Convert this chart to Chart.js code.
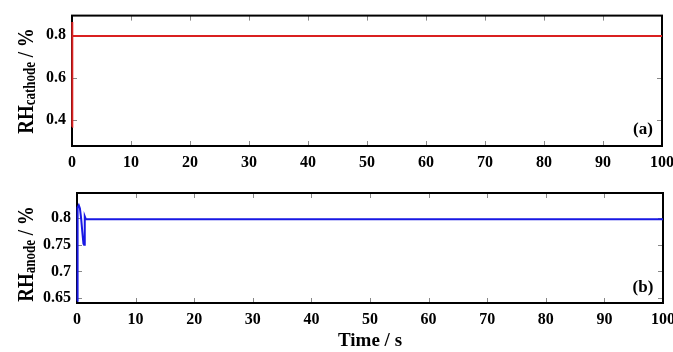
<!DOCTYPE html>
<html>
<head>
<meta charset="utf-8">
<script src="https://cdn.jsdelivr.net/npm/chart.js@4.4.1/dist/chart.umd.min.js"></script>
<style>
  body { margin: 0; background: #fff; }
  #wrap { position: relative; width: 673px; height: 352px; }
  canvas { position: absolute; left: 0; }
</style>
</head>
<body>
<div id="wrap">
  <canvas id="chartA" width="673" height="172" style="top:0"></canvas>
  <canvas id="chartB" width="673" height="177" style="top:175px"></canvas>
</div>
<script>
// data
const timeA = [0, 0, 0.1, 100]
const rhCathode = [0.37, 0.86, 0.795, 0.795]
const timeB = [0, 0.05, 0.15, 0.3, 0.5, 0.7, 0.9, 1.1, 1.2, 1.3, 1.35, 1.5, 100]
const rhAnode = [0.645, 0.8, 0.82, 0.824, 0.818, 0.8, 0.775, 0.752, 0.75, 0.79, 0.803, 0.798, 0.798]
const xTicks = [0, 10, 20, 30, 40, 50, 60, 70, 80, 90, 100]
const yTicksA = [0.4, 0.6, 0.8]
const yTicksB = [0.65, 0.7, 0.75, 0.8]

const serif = '"Liberation Serif", "Times New Roman", serif'
const red = 'rgb(218, 32, 32)'
const blue = 'rgb(24, 24, 228)'

// frame + inward ticks go under the line, labels on top
function framePlugin(cfg) {
  return {
    id: 'frame',
    beforeDatasetsDraw(chart) {
      const ctx = chart.ctx
      const a = chart.chartArea
      const xs = chart.scales.x
      const ys = chart.scales.y
      ctx.save()
      ctx.strokeStyle = '#888'
      ctx.lineWidth = 1
      ctx.beginPath()
      xs.ticks.forEach(t => {
        const px = Math.round(xs.getPixelForValue(t.value)) + 0.5
        ctx.moveTo(px, a.bottom); ctx.lineTo(px, a.bottom - 5)
        ctx.moveTo(px, a.top); ctx.lineTo(px, a.top + 5)
      })
      ys.ticks.forEach(t => {
        const py = Math.round(ys.getPixelForValue(t.value)) + 0.5
        ctx.moveTo(a.left, py); ctx.lineTo(a.left + 5, py)
        ctx.moveTo(a.right, py); ctx.lineTo(a.right - 5, py)
      })
      ctx.stroke()
      ctx.strokeStyle = '#000'
      ctx.lineWidth = 2
      ctx.strokeRect(a.left, a.top, a.right - a.left, a.bottom - a.top)
      ctx.restore()
    },
    afterDraw(chart) {
      const ctx = chart.ctx
      const a = chart.chartArea
      ctx.save()
      ctx.fillStyle = '#000'
      ctx.font = 'bold 17px ' + serif
      ctx.textAlign = 'center'
      ctx.textBaseline = 'middle'
      ctx.fillText(cfg.tag, 643, cfg.tagY)

      // y title: RH with subscript, then " / %"
      const big = 'bold 19px ' + serif
      const small = 'bold 13px ' + serif
      ctx.font = big
      const w1 = ctx.measureText('RH').width
      const w3 = ctx.measureText(' / %').width
      ctx.font = small
      const w2 = ctx.measureText(cfg.sub).width
      const total = w1 + w2 + w3
      ctx.translate(33, cfg.titleY)
      ctx.rotate(-Math.PI / 2)
      ctx.scale(1, 1.25)
      ctx.textAlign = 'left'
      ctx.textBaseline = 'alphabetic'
      let x = -total / 2
      ctx.font = big
      ctx.fillText('RH', x, 0)
      x += w1
      ctx.font = small
      ctx.fillText(cfg.sub, x, 1.5)
      x += w2
      ctx.font = big
      ctx.fillText(' / %', x, 0)
      ctx.restore()

      if (cfg.xTitle) {
        ctx.save()
        ctx.fillStyle = '#000'
        ctx.font = 'bold 19px ' + serif
        ctx.textAlign = 'center'
        ctx.textBaseline = 'middle'
        ctx.fillText(cfg.xTitle, (a.left + a.right) / 2, cfg.xTitleY)
        ctx.restore()
      }
    }
  }
}

function makeChart(id, xsData, ysData, color, cfg) {
  const ctx = document.getElementById(id).getContext('2d')
  return new Chart(ctx, {
    type: 'line',
    data: {
      datasets: [{
        data: xsData.map((t, i) => ({ x: t, y: ysData[i] })),
        borderColor: color,
        borderWidth: 2,
        pointRadius: 0,
        tension: 0,
        fill: false,
        clip: 3
      }]
    },
    options: {
      responsive: false,
      animation: false,
      plugins: { legend: { display: false }, tooltip: { enabled: false } },
      layout: { padding: { top: cfg.padTop, right: cfg.padRight, left: 0, bottom: 0 } },
      scales: {
        x: {
          type: 'linear',
          min: 0,
          max: 100,
          afterBuildTicks: s => { s.ticks = xTicks.map(v => ({ value: v })) },
          afterFit: s => {
            s.height = cfg.xHeight
            s.paddingLeft = 0
            s.paddingRight = 0
          },
          grid: { display: false, drawTicks: false },
          border: { display: false },
          ticks: {
            padding: 7,
            color: '#000',
            maxRotation: 0,
            font: { family: serif, size: 16, weight: 'bold' },
            callback: v => String(v)
          }
        },
        y: {
          type: 'linear',
          min: cfg.yMin,
          max: cfg.yMax,
          afterBuildTicks: s => { s.ticks = cfg.yTicks.map(v => ({ value: v })) },
          afterFit: s => { s.width = cfg.yWidth },
          grid: { display: false, drawTicks: false },
          border: { display: false },
          ticks: {
            padding: 6,
            color: '#000',
            font: { family: serif, size: 16, weight: 'bold' },
            callback: v => String(v)
          }
        }
      }
    },
    plugins: [framePlugin(cfg)]
  })
}

makeChart('chartA', timeA, rhCathode, red, {
  padTop: 15, padRight: 11, xHeight: 26, yWidth: 72, yMin: 0.28, yMax: 0.89,
  yTicks: yTicksA, tag: '(a)', sub: 'cathode', tagY: 130, titleY: 81
})
makeChart('chartB', timeB, rhAnode, blue, {
  padTop: 18, padRight: 10, xHeight: 49, yWidth: 77, yMin: 0.641, yMax: 0.847,
  yTicks: yTicksB, tag: '(b)', sub: 'anode', tagY: 113, titleY: 79,
  xTitle: 'Time / s', xTitleY: 166
})
</script>
</body>
</html>
